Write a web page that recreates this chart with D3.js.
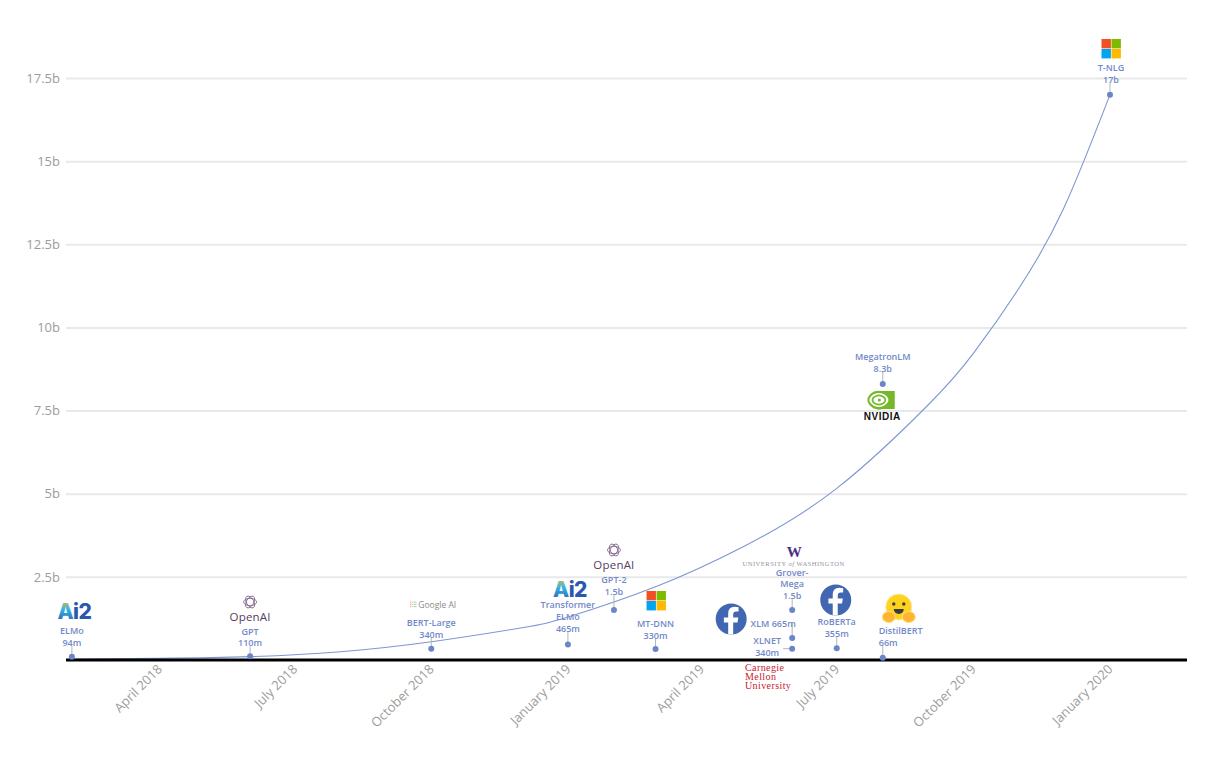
<!DOCTYPE html>
<html><head><meta charset="utf-8">
<script src="https://cdn.jsdelivr.net/npm/d3@7"></script>
<style>
html,body{margin:0;background:#fff}
text{font-family:"Open Sans",sans-serif}
.lab{font-size:9px;font-weight:600;fill:#7189c9}
.tick text{font-size:13px;fill:#9c9c9c}
</style></head><body><svg id="c" width="1206" height="772"></svg>
<script>
// ---- data ----
const models = ["ELMo","GPT","BERT-Large","Transformer ELMo","GPT-2","MT-DNN","Grover-Mega","XLM","XLNET","RoBERTa","DistilBERT","MegatronLM","T-NLG"];
const modelDates = ["2018-02-01","2018-06-01","2018-10-01","2019-01-01","2019-02-01","2019-03-01","2019-06-01","2019-06-01","2019-06-01","2019-07-01","2019-08-01","2019-08-01","2020-01-01"];
const modelParams = [0.094,0.11,0.34,0.465,1.5,0.33,1.5,0.665,0.34,0.355,0.066,8.3,17];
const trendDates = ["2018-02-01","2018-04-01","2018-06-01","2018-08-01","2018-10-01","2018-12-01","2019-01-01","2019-03-01","2019-05-01","2019-07-01","2019-09-01","2019-10-01","2019-11-01","2019-12-01","2020-01-01"];
const trendValues = [0.03,0.05,0.1,0.25,0.55,0.97,1.29,2.2,3.45,5.16,7.69,9.22,11.2,13.6,17];
const yTicks = [2.5,5,7.5,10,12.5,15,17.5];
const yTickLabels = ["2.5b","5b","7.5b","10b","12.5b","15b","17.5b"];
const xTicks = ["2018-04-01","2018-07-01","2018-10-01","2019-01-01","2019-04-01","2019-07-01","2019-10-01","2020-01-01"];
const xTickLabels = ["April 2018","July 2018","October 2018","January 2019","April 2019","July 2019","October 2019","January 2020"];

// ---- layout (label lines, offsets from the point; not data) ----
const labelLines = [["ELMo","94m"],["GPT","110m"],["BERT-Large","340m"],["Transformer","ELMo","465m"],["GPT-2","1.5b"],["MT-DNN","330m"],["Grover-","Mega","1.5b"],["XLM 665m"],["XLNET","340m"],["RoBERTa","355m"],["DistilBERT","66m"],["MegatronLM","8.3b"],["T-NLG","17b"]];
const labelDx = [0,0,0,0,0,0,0,-19,-25,0,-4,0,1];
const labelDy = [-11,-10,-11,-13,-15,-10,-11,-11,7,-11,-12,-12,-12];
const labelAnchor = ["middle","middle","middle","middle","middle","middle","middle","middle","middle","middle","start","middle","middle"];
const lineH = 11.7;

const parse = d3.utcParse("%Y-%m-%d");
const svg = d3.select("#c");
const x = d3.scaleUtc().domain([parse("2018-04-01"),parse("2020-01-01")]).range([159.5,1110]);
const y = d3.scaleLinear().domain([0,17.5]).range([660,78]);
const L = 66, R = 1187;

// grid + y axis
const gy = svg.append("g").attr("transform",`translate(${L},0)`)
  .call(d3.axisLeft(y).tickValues(yTicks).tickFormat((d,i)=>yTickLabels[i]).tickSize(-(R-L)).tickPadding(6));
gy.select(".domain").remove();
gy.selectAll("line").attr("stroke","#e9e9e9").attr("stroke-width",2);
// x axis
const gx = svg.append("g").attr("transform","translate(0,660)")
  .call(d3.axisBottom(x).tickValues(xTicks.map(parse)).tickFormat((d,i)=>xTickLabels[i]).tickSize(0));
gx.select(".domain").remove();
gx.selectAll("text").attr("text-anchor","end").attr("dy",0).attr("y",0)
  .attr("transform","translate(3,10) rotate(-45)");

// trend
const trend = d3.line().x(d=>x(d.d)).y(d=>y(d.v)).curve(d3.curveNatural);
svg.append("path").datum(trendDates.map((s,i)=>({d:parse(s),v:trendValues[i]})))
  .attr("d",trend).attr("fill","none").attr("stroke","#7f96d2").attr("stroke-width",1.1);
// baseline
svg.append("line").attr("x1",L).attr("x2",R).attr("y1",y(0)).attr("y2",y(0)).attr("stroke","#000").attr("stroke-width",3);

// points
const pts = models.map((m,i)=>({m,i,px:x(parse(modelDates[i])),py:y(modelParams[i])}));
// leaders
pts.forEach(p=>{
  const horizontal = p.m==="XLNET";
  svg.append("line").attr("x1",p.px).attr("y1",p.py)
    .attr("x2",horizontal?p.px-9:p.px).attr("y2",horizontal?p.py:p.py+labelDy[p.i]+(p.m==="XLM"?-4:0))
    .attr("stroke","#b5b5b5").attr("stroke-width",1);
});
svg.selectAll("circle.pt").data(pts).join("circle").attr("class","pt")
  .attr("cx",d=>d.px).attr("cy",d=>d.py).attr("r",3).attr("fill","#6a85c8");
// labels
pts.forEach(p=>{
  const lines = labelLines[p.i];
  const t = svg.append("text").attr("class","lab").attr("text-anchor",labelAnchor[p.i]);
  lines.forEach((s,k)=>{
    t.append("tspan").attr("x",p.px+labelDx[p.i])
     .attr("y",p.py+labelDy[p.i]-(lines.length-1-k)*lineH).text(s);
  });
});

// ---- logos, placed relative to the labelled points ----
const P = n => pts.find(p=>p.m===n);
const defs = svg.append("defs");
const gr = defs.append("linearGradient").attr("id","ai").attr("x1",0.3).attr("x2",0.2).attr("y1",0).attr("y2",1);
gr.append("stop").attr("offset","0.05").attr("stop-color","#f5b52e");
gr.append("stop").attr("offset","0.4").attr("stop-color","#35b6e6");
gr.append("stop").attr("offset","1").attr("stop-color","#2a55ad");
function ai2(cx,base){
  const t = svg.append("text").attr("x",cx).attr("y",base).attr("text-anchor","middle")
    .style("font-family","Inter,Roboto,sans-serif").style("font-size","21px").style("font-weight",800).style("letter-spacing","-0.6px");
  t.append("tspan").attr("fill","url(#ai)").text("A");
  t.append("tspan").attr("fill","#2b57ae").text("i2");
}
function openai(cx,cy){
  const g = svg.append("g").attr("transform",`translate(${cx},${cy})`).attr("fill","none").attr("stroke","#7a5c88").attr("stroke-width",0.8);
  [0,60,120].forEach(r=>g.append("ellipse").attr("rx",6.5).attr("ry",3.6).attr("transform",`rotate(${r})`));
  svg.append("text").attr("x",cx).attr("y",cy+19).attr("text-anchor","middle")
    .style("font-size","11.5px").style("letter-spacing","0.2px").attr("fill","#57405f").text("OpenAI");
}
function ms(x0,y0){
  const c=["#f25022","#7fba00","#00a4ef","#ffb900"], s=9.4;
  c.forEach((col,i)=>svg.append("rect").attr("x",x0+(i%2)*(s+0.6)).attr("y",y0+(i>1?1:0)*(s+0.6)).attr("width",s).attr("height",s).attr("fill",col));
}
function fb(cx,cy){
  svg.append("circle").attr("cx",cx).attr("cy",cy).attr("r",15.5).attr("fill","#4267b2");
  svg.append("path").attr("transform",`translate(${cx},${cy})`).attr("fill","#fff")
    .attr("d","M2,15.4 V3.5 H6.3 L7.1,-1.5 H2 V-4.5 Q2,-7.6 5,-7.6 H7.4 V-11.8 Q5,-12.2 3.5,-12.2 Q-3,-12.2 -3,-5.2 V-1.5 H-7.3 V3.5 H-3 V15.2 Z");
}
ai2(P("ELMo").px+2.5,619);
ai2(P("Transformer ELMo").px+2,597);
openai(P("GPT").px,602);
openai(P("GPT-2").px,550);
ms(P("MT-DNN").px-9,591);
ms(P("T-NLG").px-8.5,39);
fb(P("XLM").px-61,619);
fb(P("RoBERTa").px-1,600);

// Google AI
const ga = P("BERT-Large").px;
["#ea4335","#fbbc05","#34a853","#4285f4"].forEach((col,i)=>{
  for(let k=0;k<3;k++) svg.append("rect").attr("x",ga-21+i*1.7).attr("y",601.5+k*2.2).attr("width",1).attr("height",1.3).attr("fill",col).attr("opacity",.6);
});
svg.append("text").attr("x",ga-13).attr("y",608).style("font-size","8.5px").attr("fill","#8a8a8a").text("Google AI");

// UW
const gm = P("Grover-Mega").px;
svg.append("text").attr("x",gm+2).attr("y",557).attr("text-anchor","middle").style("font-family","Liberation Serif").style("font-weight",700).style("font-size","15px").attr("fill","#4b2e83").text("W");
const uw = svg.append("text").attr("x",gm+1.5).attr("y",566).attr("text-anchor","middle").style("font-family","Liberation Serif").style("font-size","6.6px").style("letter-spacing","0.45px").attr("fill","#9a93a6");
uw.append("tspan").text("UNIVERSITY ");
uw.append("tspan").style("font-style","italic").text("of");
uw.append("tspan").text(" WASHINGTON");

// CMU
["Carnegie","Mellon","University"].forEach((s,i)=>svg.append("text").attr("x",745).attr("y",671+i*9)
  .style("font-family","Liberation Serif").style("font-size","10px").style("letter-spacing","0.4px").attr("fill","#c8202f").text(s));

// NVIDIA
const nv = P("MegatronLM").px;
const blob = d3.line().curve(d3.curveBasisClosed);
svg.append("rect").attr("x",nv-6).attr("y",391).attr("width",18).attr("height",18).attr("fill","#76b82a");
svg.append("path").attr("d",blob([[nv-19,400],[nv-8,389],[nv+3,392],[nv+10,400],[nv+3,409],[nv-8,411]])).attr("fill","#76b82a");
svg.append("path").attr("d",blob([[nv-16,400],[nv-8,392.5],[nv+1,393],[nv+8,400],[nv+1,407],[nv-8,407.5]])).attr("fill","#fff");
svg.append("path").attr("d",blob([[nv-12,400],[nv-7,395],[nv,395.5],[nv+4,400],[nv,404.5],[nv-7,405]])).attr("fill","none").attr("stroke","#76b82a").attr("stroke-width",1.6);
svg.append("circle").attr("cx",nv-3.5).attr("cy",400).attr("r",1.6).attr("fill","#76b82a");
svg.append("text").attr("x",nv-0.5).attr("y",420).attr("text-anchor","middle").style("font-family","Liberation Sans").style("font-weight",700).style("font-size","10px").style("letter-spacing","0.5px").attr("fill","#111").text("NVIDIA");

// Hugging face
const hf = P("DistilBERT").px+16, hy=610;
svg.append("circle").attr("cx",hf).attr("cy",hy-3).attr("r",13).attr("fill","#ffd21e").attr("stroke","#ffe9a6").attr("stroke-width",1);
[-1,1].forEach(s=>{
  svg.append("circle").attr("cx",hf+s*5).attr("cy",hy-6).attr("r",1.7).attr("fill","#3a3b45");
  svg.append("ellipse").attr("cx",hf+s*10).attr("cy",hy+7).attr("rx",6.5).attr("ry",5.5).attr("fill","#ffb52e").attr("stroke","#ffe08a").attr("stroke-width",1);
});
svg.append("path").attr("d",d3.arc()({innerRadius:0,outerRadius:5,startAngle:Math.PI/2,endAngle:Math.PI*1.5})).attr("transform",`translate(${hf},${hy-1})`).attr("fill","#3a3b45");
</script></body></html>
